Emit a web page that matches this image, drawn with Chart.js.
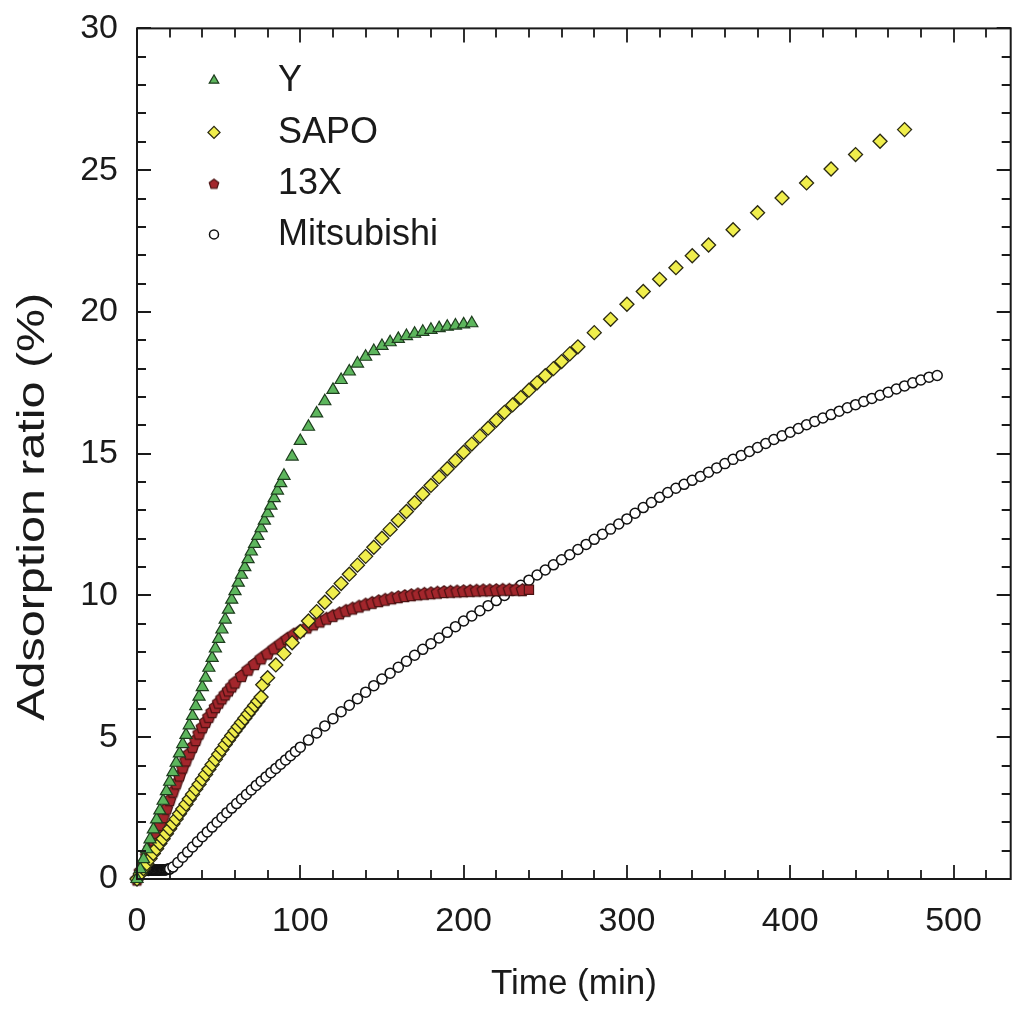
<!DOCTYPE html>
<html>
<head>
<meta charset="utf-8">
<script src="https://cdn.jsdelivr.net/npm/chart.js@4.4.1/dist/chart.umd.min.js"></script>
<style>
  html, body { margin: 0; padding: 0; background: #fff; overflow: hidden; }
  #frame { position: relative; width: 1012px; height: 1009px; overflow: hidden; }
  #chart { position: absolute; left: 0; top: -11px; }
</style>
</head>
<body>
<div id="frame"><canvas id="chart" width="1019" height="1020"></canvas></div>
<script>
// adsorption runs: time (min) vs adsorption ratio (%)
const yTime = [0,2,4,6,8,10,12,14,16,18,20,22,24,26,28,30,32,34,36,38,40,42,44,46,48,50,52,54,56,58,60,62,64,66,68,70,72,74,76,78,80,82,84,86,88,90,
  95,100,105,110,115,120,125,130,135,140,145,150,155,160,165,170,175,180,185,190,195,200,205];
const yValue = [0,0.35,0.7,1.05,1.4,1.75,2.1,2.42,2.76,3.1,3.43,3.77,4.1,4.43,4.76,5.08,5.42,5.75,6.1,6.43,6.77,7.1,7.45,7.8,8.13,8.47,8.8,9.15,9.5,9.85,
  10.15,10.45,10.73,11.0,11.28,11.55,11.82,12.1,12.37,12.64,12.9,13.17,13.43,13.7,13.96,14.22,
  14.9,15.45,15.95,16.42,16.85,17.25,17.6,17.9,18.18,18.42,18.62,18.8,18.93,19.05,19.15,19.23,19.3,19.37,19.43,19.48,19.52,19.56,19.6];

const sapoTime = [0,2,4,6,8,10,12,14,16,18,20,22,24,26,28,30,32,34,36,38,40,42,44,46,48,50,52,54,56,58,60,62,64,66,68,70,72,74,76,77,
  80,85,90,95,100,105,110,115,120,125,130,135,140,145,150,155,160,165,170,175,180,185,190,195,200,205,210,215,220,225,230,235,240,245,250,255,260,265,270,
  280,290,300,310,320,330,340,350,
  365,380,395,410,425,440,455,470];
const sapoValue = [0,0.18,0.36,0.54,0.72,0.9,1.07,1.25,1.42,1.6,1.77,1.95,2.12,2.3,2.47,2.64,2.82,2.99,3.17,3.34,3.52,3.69,3.87,4.04,4.22,4.4,4.57,4.74,4.9,5.06,
  5.22,5.37,5.52,5.67,5.82,5.97,6.12,6.27,6.42,6.85,
  7.1,7.55,7.95,8.33,8.72,9.1,9.43,9.76,10.1,10.42,10.75,11.07,11.38,11.7,12.02,12.33,12.65,12.96,13.27,13.58,
  13.88,14.18,14.47,14.76,15.05,15.34,15.62,15.9,16.18,16.46,16.72,16.98,17.24,17.5,17.75,18.0,18.25,18.52,18.77,
  19.27,19.74,20.27,20.72,21.15,21.56,21.98,22.36,
  22.9,23.5,24.02,24.55,25.04,25.55,26.02,26.43];

const x13Time = [0,2,4,6,8,10,12,14,16,18,20,22,24,26,28,30,32,34,36,38,40,42,44,46,48,50,52,54,56,58,60,
  64,68,72,76,80,84,88,92,96,100,104,108,112,116,120,124,128,132,136,140,144,148,152,156,160,164,168,172,176,180,
  184,188,192,196,200,204,208,212,216,220,224,228,232,236,240];
const x13Value = [0,0.28,0.56,0.83,1.1,1.38,1.65,1.93,2.2,2.5,2.8,3.1,3.39,3.67,3.95,4.2,4.44,4.68,4.92,5.15,
  5.37,5.56,5.74,5.91,6.08,6.24,6.39,6.53,6.67,6.81,6.95,
  7.18,7.4,7.6,7.8,7.97,8.15,8.32,8.49,8.64,8.77,8.89,9.0,9.1,9.2,9.3,9.39,9.48,9.56,9.63,9.7,
  9.76,9.82,9.87,9.92,9.96,10.0,10.03,10.06,10.08,10.1,10.12,10.14,10.15,10.16,10.17,10.18,10.19,10.2,10.2,10.21,
  10.22,10.22,10.22,10.21,10.2];

const mitsuTime = [2,2.5,3,3.5,4,4.5,5,5.5,6,6.5,7,7.5,8,8.5,9,9.5,10,10.5,11,11.5,12,12.5,13,13.5,14,14.5,15,15.5,16,16.5,17,17.5,18,18.5,19,19.5,20,22,
  25,28,31,34,37,40,43,46,49,52,55,58,61,64,67,70,73,76,79,82,85,88,91,94,97,100,
  105,110,115,120,125,130,135,140,145,150,155,160,165,170,175,180,185,190,195,200,
  205,210,215,220,225,230,235,240,245,250,255,260,265,270,275,280,285,290,295,300,
  305,310,315,320,325,330,335,340,345,350,355,360,365,370,375,380,385,390,395,400,
  405,410,415,420,425,430,435,440,445,450,455,460,465,470,475,480,485,490];
const mitsuValue = [0.26,0.27,0.28,0.29,0.3,0.3,0.3,0.3,0.31,0.31,0.3,0.31,0.31,0.31,0.32,0.32,0.31,0.32,0.32,0.32,0.32,0.31,0.31,0.32,0.32,0.32,0.32,0.33,0.33,0.32,0.32,0.33,0.33,0.34,0.34,0.35,0.35,0.42,
  0.58,0.77,0.95,1.13,1.31,1.49,1.66,1.83,2.0,2.17,2.34,2.5,2.66,2.82,2.98,3.14,3.3,3.45,3.6,3.75,3.9,4.05,4.2,4.35,4.5,4.65,
  4.9,5.15,5.4,5.65,5.9,6.13,6.36,6.59,6.82,7.05,7.26,7.47,7.68,7.89,8.1,8.3,8.5,8.7,8.9,9.1,
  9.28,9.46,9.64,9.82,10.0,10.18,10.36,10.54,10.72,10.9,11.08,11.26,11.44,11.62,11.8,11.98,12.16,12.34,12.52,12.7,
  12.9,13.1,13.28,13.46,13.63,13.78,13.92,14.06,14.2,14.35,14.5,14.65,14.8,14.94,15.08,15.22,15.36,15.5,15.63,15.76,
  15.89,16.02,16.14,16.26,16.38,16.5,16.62,16.73,16.84,16.95,17.06,17.17,17.28,17.39,17.5,17.6,17.7,17.76];

const seriesNames = ['Y', 'SAPO', '13X', 'Mitsubishi'];
const xLabelValues = [0, 100, 200, 300, 400, 500];
const yLabelValues = [0, 5, 10, 15, 20, 25, 30];

const FONT = "'Liberation Sans', Arial, sans-serif";
const INK = '#1a1a1a';

function pairs(ts, vs) {
  return ts.map((t, i) => ({ x: t, y: vs[i] }));
}

// small pentagon sprite for the 13X markers
function makePentagon(fill, stroke, r) {
  const c = document.createElement('canvas');
  const s = Math.ceil(r * 2 + 4);
  c.width = s; c.height = s;
  const g = c.getContext('2d');
  g.beginPath();
  for (let i = 0; i < 5; i++) {
    const a = -Math.PI / 2 + i * 2 * Math.PI / 5;
    const px = s / 2 + r * Math.cos(a), py = s / 2 + 0.8 + r * Math.sin(a);
    if (i) g.lineTo(px, py); else g.moveTo(px, py);
  }
  g.closePath();
  g.fillStyle = fill; g.fill();
  g.lineWidth = 1.2; g.strokeStyle = stroke; g.stroke();
  return c;
}
const pentagon = makePentagon('#a3262c', '#4a1212', 6.5);
const pentagonSmall = makePentagon('#a3262c', '#4a1212', 5);

const styles = [
  { pointStyle: 'triangle', radius: 7, legendRadius: 5.5, bg: '#5db65d', border: '#1e3d1e', bw: 1.2 },
  { pointStyle: 'rectRot', radius: 7, legendRadius: 6, bg: '#f0ee4c', border: '#2b2a12', bw: 1.3 },
  { pointStyle: pentagon, legendStyle: pentagonSmall, radius: 6.5, legendRadius: 5, bg: '#a3262c', border: '#4a1212', bw: 1.2 },
  { pointStyle: 'circle', radius: 5, legendRadius: 4.5, bg: '#ffffff', border: '#111111', bw: 1.5 }
];

const x13Last = x13Time.length - 1;

const datasets = [
  pairs(yTime, yValue), pairs(sapoTime, sapoValue), pairs(x13Time, x13Value), pairs(mitsuTime, mitsuValue)
].map((data, i) => ({
  label: seriesNames[i],
  data,
  showLine: false,
  clip: false,
  pointStyle: i === 2 ? (ctx => ctx.dataIndex === x13Last ? 'rect' : pentagon) : styles[i].pointStyle,
  pointRadius: styles[i].radius,
  pointBackgroundColor: styles[i].bg,
  pointBorderColor: styles[i].border,
  pointBorderWidth: styles[i].bw,
  pointHoverRadius: styles[i].radius
}));

// boxed frame with inward ticks on all four sides
const framePlugin = {
  id: 'frame',
  afterDraw(chart) {
    const { ctx, chartArea: a, scales: { x, y } } = chart;
    ctx.save();
    ctx.strokeStyle = INK;
    ctx.lineWidth = 2;
    ctx.strokeRect(a.left, a.top, a.right - a.left, a.bottom - a.top);
    ctx.lineWidth = 1.8;
    ctx.beginPath();
    x.ticks.forEach(t => {
      const px = Math.round(x.getPixelForValue(t.value));
      const len = xLabelValues.includes(t.value) ? 14 : 9;
      ctx.moveTo(px, a.bottom); ctx.lineTo(px, a.bottom - len);
      ctx.moveTo(px, a.top); ctx.lineTo(px, a.top + len);
    });
    y.ticks.forEach(t => {
      const py = Math.round(y.getPixelForValue(t.value));
      const len = yLabelValues.includes(t.value) ? 14 : 9;
      ctx.moveTo(a.left, py); ctx.lineTo(a.left + len, py);
      ctx.moveTo(a.right, py); ctx.lineTo(a.right - len, py);
    });
    ctx.stroke();
    ctx.restore();
  }
};

// vertical axis title, drawn by hand so it can be stretched along its length
const yTitlePlugin = {
  id: 'yTitle',
  afterDraw(chart) {
    const { ctx, chartArea: a } = chart;
    const text = 'Adsorption ratio (%)';
    ctx.save();
    ctx.font = '38px ' + FONT;
    ctx.fillStyle = INK;
    ctx.textAlign = 'center';
    ctx.textBaseline = 'middle';
    const w = ctx.measureText(text).width;
    ctx.translate(a.left - 103, (a.top + a.bottom) / 2 + 53);
    ctx.rotate(-Math.PI / 2);
    ctx.scale(428 / w, 1);
    ctx.fillText(text, 0, 0);
    ctx.restore();
  }
};

// legend in the upper-left corner of the plot
const legendPlugin = {
  id: 'cornerLegend',
  afterDraw(chart) {
    const { ctx, chartArea: a } = chart;
    const mx = a.left + 77, tx = a.left + 141;
    const rows = [52, 104, 155, 206];
    ctx.save();
    ctx.font = '36px ' + FONT;
    ctx.textBaseline = 'middle';
    seriesNames.forEach((name, i) => {
      const s = styles[i];
      const yy = a.top + rows[i];
      ctx.fillStyle = s.bg;
      ctx.strokeStyle = s.border;
      ctx.lineWidth = s.bw;
      Chart.helpers.drawPoint(ctx, { pointStyle: s.legendStyle || s.pointStyle, radius: s.legendRadius, rotation: 0, borderWidth: s.bw }, mx, yy);
      ctx.fillStyle = INK;
      ctx.fillText(name, tx, yy + 1);
    });
    ctx.restore();
  }
};

new Chart(document.getElementById('chart'), {
  type: 'scatter',
  data: { datasets },
  options: {
    responsive: false,
    animation: false,
    devicePixelRatio: 1,
    layout: { padding: { top: 16, right: -7, left: 0, bottom: 0 } },
    plugins: { legend: { display: false }, tooltip: { enabled: false } },
    scales: {
      x: {
        type: 'linear',
        min: 0,
        max: 535,
        grid: { display: false, drawTicks: false },
        border: { display: false },
        ticks: {
          stepSize: 20,
          includeBounds: false,
          autoSkip: false,
          maxRotation: 0,
          padding: 22,
          color: INK,
          font: { family: FONT, size: 34 },
          callback: v => xLabelValues.includes(v) ? String(v) : ''
        },
        title: {
          display: true,
          text: 'Time (min)',
          color: INK,
          font: { family: FONT, size: 35 },
          padding: { top: 0, bottom: 4 }
        },
        afterFit: s => { s.height = 130; }
      },
      y: {
        type: 'linear',
        min: 0,
        max: 30,
        grid: { display: false, drawTicks: false },
        border: { display: false },
        ticks: {
          stepSize: 1,
          autoSkip: false,
          padding: 19,
          color: INK,
          font: { family: FONT, size: 34 },
          callback: v => yLabelValues.includes(v) ? String(v) : ''
        },
        afterFit: s => { s.width = 137; }
      }
    }
  },
  plugins: [framePlugin, yTitlePlugin, legendPlugin]
});
</script>
</body>
</html>
